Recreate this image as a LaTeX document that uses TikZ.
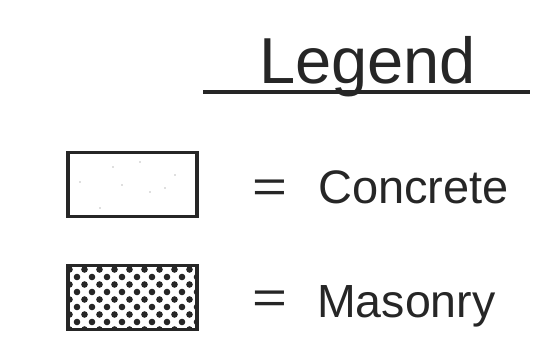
\documentclass[tikz,border=0pt]{standalone}
\usepackage{fontspec}
\setmainfont{Liberation Sans}
\begin{document}
\begin{tikzpicture}[x=1pt,y=-1pt,
  boxstyle/.style={draw=black!85,line width=3.2pt,inner sep=0pt,outer sep=0pt,minimum width=129pt,minimum height=64pt},
  lbl/.style={inner sep=0pt,anchor=base west,text=black!85},
  eqs/.style={inner sep=0pt,anchor=center,text=black!85,font=\fontsize{46}{50}\selectfont,xscale=1.3},
  speck/.style={fill=black!25},
  masdot/.style={fill=black!85}]
\useasboundingbox (0,0) rectangle (556,361);
% title
\node[lbl,font=\fontsize{65}{70}\selectfont] (title) at (259,83) {Legend};
\coordinate (ulA) at (203,92);
\coordinate (ulB) at (530,92);
\draw[line width=3.2pt,black!85] (ulA) -- (ulB);
% concrete
\node[boxstyle] (conc) at (132.5,184.5) {};
\foreach \p in {(113,167),(175,175),(122,185),(150,192),(165,188),(80,182),(100,208),(140,162)}
  \fill[speck] \p circle (0.9);
\node[eqs] (eq1) at (270,191) {=};
\node[lbl,font=\fontsize{47}{50}\selectfont] (clab) at (318,203) {Concrete};
% masonry
\node[boxstyle] (mas) at (132.5,297.5) {};
\begin{scope}
\clip (mas.south west) rectangle (mas.north east);
\foreach \a in {-2,...,18}{
  \foreach \b in {-2,...,8}{
    \pgfmathtruncatemacro{\parity}{mod(\a+\b+40,2)}
    \ifnum\parity=0
      \fill[masdot] ({77+7.5*\a},{277+7.5*\b}) circle (3.3);
    \fi
  }
}
\end{scope}
\node[boxstyle] at (mas) {};
\node[eqs] (eq2) at (270,302) {=};
\node[lbl,font=\fontsize{46.5}{50}\selectfont] (mlab) at (317,317) {Masonry};
\end{tikzpicture}
\end{document}
